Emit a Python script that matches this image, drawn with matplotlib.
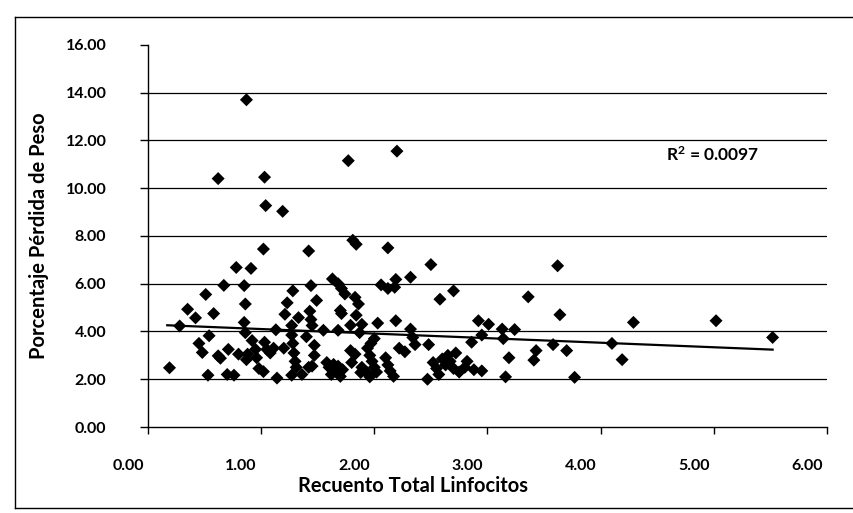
import matplotlib
matplotlib.use("Agg")
import matplotlib.pyplot as plt
import matplotlib.transforms as mtransforms
from matplotlib.lines import Line2D

# valores (x = recuento linfocitos, y = % perdida de peso)
linfocitos = [
    0.19, 0.28, 0.35, 0.42, 0.45, 0.48, 0.51, 0.54, 0.53, 0.58,
    0.62, 0.64, 0.62, 0.67, 0.71, 0.70, 0.76, 0.78, 0.80, 0.85,
    0.86, 0.85, 0.86, 0.87, 0.87, 0.88, 0.91, 0.92, 0.95, 0.96,
    0.98, 1.02, 1.02, 1.03, 1.04, 1.03, 1.05, 1.08, 1.11, 1.13,
    1.14, 1.19, 1.20, 1.21, 1.23, 1.28, 1.27, 1.27, 1.28, 1.29,
    1.30, 1.31, 1.27, 1.33, 1.36, 1.40, 1.42, 1.44, 1.43, 1.44,
    1.45, 1.49, 1.47, 1.47, 1.42, 1.45, 1.55, 1.58, 1.60, 1.62,
    1.64, 1.66, 1.68, 1.70, 1.72, 1.63, 1.68, 1.71, 1.74, 1.70,
    1.71, 1.68, 1.77, 1.79, 1.80, 1.83, 1.81, 1.84, 1.83, 1.86,
    1.84, 1.79, 1.89, 1.87, 1.89, 1.88, 1.93, 1.96, 1.94, 1.96,
    1.98, 2.00, 2.02, 1.97, 2.00, 2.03, 2.06, 2.12, 2.18, 2.19,
    2.12, 2.10, 2.12, 2.14, 2.17, 2.19, 2.20, 2.22, 2.27, 2.32,
    2.32, 2.34, 2.36, 2.48, 2.47, 2.50, 2.52, 2.55, 2.57, 2.58,
    2.70, 2.60, 2.63, 2.65, 2.67, 2.70, 2.72, 2.75, 2.80, 2.82,
    2.86, 2.88, 2.92, 2.95, 2.95, 3.01, 3.13, 3.14, 3.16, 3.19,
    3.24, 3.36, 3.41, 3.43, 3.58, 3.62, 3.64, 3.70, 3.77, 4.10,
    4.19, 4.29, 5.02, 5.52,
]
perdida_peso = [
    2.48, 4.23, 4.93, 4.57, 3.50, 3.12, 5.55, 3.82, 2.17, 4.75,
    2.98, 2.88, 10.40, 5.93, 3.25, 2.20, 2.17, 6.68, 3.05, 5.92,
    5.15, 4.38, 3.95, 13.70, 2.82, 3.05, 6.64, 3.62, 3.25, 2.90,
    2.45, 2.32, 7.45, 10.46, 9.27, 3.55, 3.25, 3.10, 3.30, 4.07,
    2.05, 9.03, 3.30, 4.72, 5.20, 5.70, 4.25, 3.85, 3.50, 3.10,
    2.75, 2.50, 2.17, 4.58, 2.20, 3.78, 7.37, 5.92, 4.85, 4.50,
    4.25, 5.30, 3.42, 3.00, 2.50, 2.55, 4.05, 2.70, 2.50, 2.20,
    2.62, 2.35, 2.55, 2.12, 2.40, 6.20, 6.00, 5.80, 5.57, 4.88,
    4.75, 4.05, 11.15, 3.20, 2.70, 3.05, 7.82, 7.65, 5.43, 5.15,
    4.68, 4.26, 4.30, 3.95, 2.50, 2.28, 2.30, 2.10, 3.30, 3.00,
    2.75, 2.50, 2.30, 3.50, 3.70, 4.35, 5.95, 5.80, 5.85, 6.18,
    7.50, 2.90, 2.60, 2.35, 2.12, 4.45, 11.55, 3.30, 3.15, 6.27,
    4.10, 3.75, 3.45, 3.45, 2.00, 6.80, 2.70, 2.45, 2.20, 5.35,
    5.70, 2.85, 2.60, 3.00, 2.75, 2.45, 3.10, 2.30, 2.50, 2.75,
    3.55, 2.40, 4.45, 3.85, 2.35, 4.30, 4.10, 3.70, 2.10, 2.90,
    4.08, 5.45, 2.80, 3.20, 3.45, 6.75, 4.70, 3.20, 2.08, 3.50,
    2.82, 4.38, 4.45, 3.75,
]
# linea de tendencia (extremos)
tendencia_x = [0.17, 5.52]
tendencia_y = [4.26, 3.24]
r2_texto = "R$^2$ = 0.0097"

y_ticks = [0, 2, 4, 6, 8, 10, 12, 14, 16]
x_ticks = [0, 1, 2, 3, 4, 5, 6]

plt.rcParams["font.family"] = ["Lato", "DejaVu Sans"]
plt.rcParams["font.weight"] = "bold"
plt.rcParams["mathtext.default"] = "regular"

fig = plt.figure(figsize=(8.54, 5.13), dpi=100)
ax = fig.add_axes([0.1733, 0.1676, 0.795, 0.745])

for g in y_ticks[1:-1]:
    ax.axhline(g, color="black", lw=0.9, zorder=1)

ax.scatter(linfocitos, perdida_peso, marker="D", s=44, color="black",
           edgecolors="none", zorder=3)
ax.plot(tendencia_x, tendencia_y, color="black", lw=1.6, zorder=2)

ax.set_xlim(0, 6)
ax.set_ylim(0, 16)
ax.set_xticks(x_ticks)
ax.set_yticks(y_ticks)
ax.set_xticklabels([f"{v:.2f}" for v in x_ticks])
ax.set_yticklabels([f"{v:.2f}" for v in y_ticks])
ax.tick_params(axis="y", direction="out", length=6, width=1, pad=24, labelsize=11.5)
ax.tick_params(axis="x", direction="out", length=5, width=1, pad=18, labelsize=11.5)
off = mtransforms.ScaledTranslation(-0.2, 0, fig.dpi_scale_trans)
for lab in ax.get_xticklabels():
    lab.set_transform(lab.get_transform() + off)

for s in ("top", "right"):
    ax.spines[s].set_visible(False)
for s in ("left", "bottom"):
    ax.spines[s].set_linewidth(1.0)

ax.set_xlabel("Recuento Total Linfocitos", fontsize=14.5, fontweight="bold")
ax.xaxis.set_label_coords(0.39, -0.128)
ax.set_ylabel("Porcentaje Pérdida de Peso", fontsize=14.5, fontweight="bold", labelpad=12)

ax.text(4.58, 11.4, r2_texto, fontsize=12.5, fontweight="bold", va="center", ha="left")

# marco exterior del grafico
for xs, ys in (([0.018, 0.018], [0.01, 0.967]),
               ([0.018, 1.0], [0.967, 0.967]),
               ([0.018, 1.0], [0.01, 0.01])):
    fig.add_artist(Line2D(xs, ys, color="black", lw=1.0, transform=fig.transFigure))

fig.savefig("out.png", dpi=100)
